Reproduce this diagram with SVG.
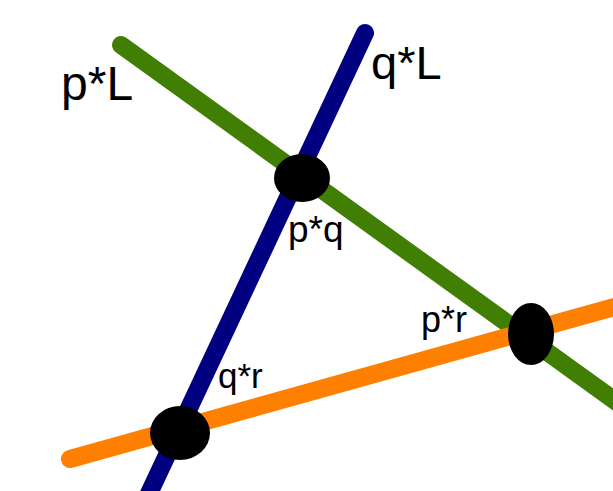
<svg xmlns="http://www.w3.org/2000/svg" width="613" height="491" viewBox="0 0 613 491">
<style>
.ln{fill:none;stroke-linecap:round;stroke-width:18}
.pt{fill:#000}
.lb{font-family:"Liberation Sans",Arial,sans-serif;fill:#000}
</style>
<rect width="613" height="491" fill="#fff"/>
<g id="connectors">
<line id="line-p" class="ln" x1="121" y1="45" x2="625" y2="408" stroke="#417f04"/>
<line id="line-q" class="ln" x1="365" y1="33" x2="145" y2="502" stroke="#000080" stroke-width="17"/>
<line id="line-r" class="ln" x1="70" y1="459" x2="625" y2="304" stroke="#ff8000" stroke-width="18"/>
</g>
<g id="label-pL"><text class="lb" x="61" y="100" font-size="48">p*L</text></g>
<g id="label-qL"><text class="lb" x="371" y="79" font-size="47">q*L</text></g>
<g id="node-pq">
<ellipse class="pt" cx="302" cy="178" rx="28" ry="24"/>
<text class="lb" x="288" y="242" font-size="37">p*q</text>
</g>
<g id="node-pr">
<ellipse class="pt" cx="531" cy="334" rx="23" ry="31"/>
<text class="lb" x="421" y="332" font-size="36">p*r</text>
</g>
<g id="node-qr">
<ellipse class="pt" cx="180" cy="433" rx="30" ry="27"/>
<text class="lb" x="218" y="388" font-size="35">q*r</text>
</g>
</svg>
